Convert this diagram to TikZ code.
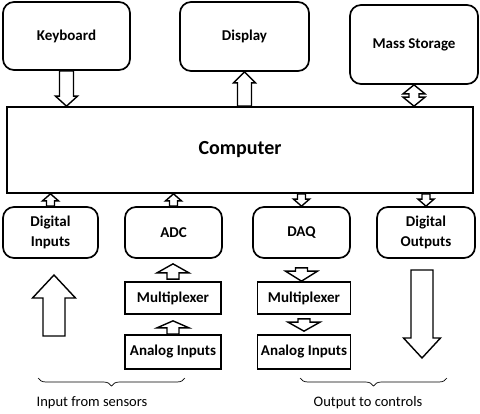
\documentclass[tikz,border=0pt]{standalone}
\usepackage{fontspec}
\setmainfont{Carlito}
\usetikzlibrary{calc, decorations.pathreplacing}

\tikzset{
    rbox/.style={draw, line width=1.7pt, rounded corners=11pt, align=center,
        inner sep=0pt, font=\bfseries\fontsize{15}{20}\selectfont},
    sbox/.style={draw, line width=1.7pt, inner sep=0pt,
        font=\bfseries\fontsize{15}{18}\selectfont},
    blk/.style={draw, line width=1.4pt, fill=white, line join=miter},
    brc/.style={decorate, decoration={brace, mirror, amplitude=8pt}, line width=0.7pt},
    note/.style={font=\fontsize{14.5}{17}\selectfont}
}

% vertical block arrow: start, tip, half shaft, half head, head length
\newcommand{\varr}[5]{%
    \draw[blk] let \p1=(#1), \p2=(#2), \n1={sign(\y2-\y1)} in
        ({\x1-#3},\y1) -- ({\x1-#3},{\y2-(\n1)*#5}) -- ({\x1-#4},{\y2-(\n1)*#5})
        -- (\x1,\y2) -- ({\x1+#4},{\y2-(\n1)*#5}) -- ({\x1+#3},{\y2-(\n1)*#5})
        -- ({\x1+#3},\y1) -- cycle;
}
% double headed block arrow: top, bottom, half shaft, half head, head length
\newcommand{\dvarr}[5]{%
    \draw[blk] let \p1=(#1), \p2=(#2) in
        (\x1,\y1) -- ({\x1+#4},{\y1-#5}) -- ({\x1+#3},{\y1-#5}) -- ({\x1+#3},{\y2+#5})
        -- ({\x1+#4},{\y2+#5}) -- (\x1,\y2) -- ({\x1-#4},{\y2+#5}) -- ({\x1-#3},{\y2+#5})
        -- ({\x1-#3},{\y1-#5}) -- ({\x1-#4},{\y1-#5}) -- cycle;
}

\begin{document}
\begin{tikzpicture}[x=1pt, y=-1pt]
    \useasboundingbox (0,0) rectangle (480,413);

    % top row
    \node[rbox, minimum width=127pt, minimum height=68pt] (kbd) at (66.5,36) {Keyboard};
    \node[rbox, minimum width=129pt, minimum height=69pt] (disp) at (244.5,36.5) {Display};
    \node[rbox, minimum width=128pt, minimum height=79pt] (mass) at (414,44.5) {Mass Storage};

    \node[draw, line width=1.7pt, minimum width=466pt, minimum height=86pt,
        font=\bfseries\fontsize{20}{22}\selectfont] (comp) at (240,150) {Computer};

    % second row
    \node[rbox, minimum width=95pt, minimum height=51pt] (din) at (50.5,232.5) {Digital\\Inputs};
    \node[rbox, minimum width=97pt, minimum height=51pt] (adc) at (173.5,232.5) {ADC};
    \node[rbox, minimum width=97pt, minimum height=51pt] (daq) at (301.5,232.5) {DAQ};
    \node[rbox, minimum width=98pt, minimum height=51pt] (dout) at (426,232.5) {Digital\\Outputs};

    \node[sbox, minimum width=96pt, minimum height=32pt] (muxl) at (173,298) {Multiplexer};
    \node[sbox, minimum width=96pt, minimum height=34pt] (anl) at (173,352) {Analog Inputs};
    \node[sbox, minimum width=93pt, minimum height=32pt] (muxr) at (304,298) {Multiplexer};
    \node[sbox, minimum width=93pt, minimum height=34pt] (anr) at (304,352) {Analog Inputs};

    % arrows to and from the computer
    \varr{kbd.south}{kbd.south |- comp.north}{7pt}{11pt}{10pt}
    \varr{disp.south |- comp.north}{disp.south}{7pt}{11pt}{11pt}
    \dvarr{mass.south}{mass.south |- comp.north}{5pt}{11pt}{9pt}
    \varr{din.north}{din.north |- comp.south}{4pt}{8pt}{7pt}
    \varr{adc.north}{adc.north |- comp.south}{4pt}{8pt}{7pt}
    \varr{daq.north |- comp.south}{daq.north}{4pt}{8pt}{7pt}
    \varr{dout.north |- comp.south}{dout.north}{4pt}{8pt}{7pt}

    % arrows in the chains
    \varr{$(muxl.north)+(0,-2)$}{$(adc.south)+(0,5)$}{6pt}{16pt}{9pt}
    \varr{anl.north}{$(muxl.south)+(0,6)$}{6pt}{16pt}{7pt}
    \varr{$(daq.south)+(0,9)$}{muxr.north}{6pt}{16pt}{10pt}
    \varr{$(muxr.south)+(0,4)$}{$(anr.north)+(0,-3)$}{6pt}{16pt}{9pt}

    % signals in and out
    \coordinate (sinb) at (54,336);
    \coordinate (sint) at (54,275);
    \coordinate (soutt) at (422,270);
    \coordinate (soutb) at (422,358);
    \varr{sinb}{sint}{11pt}{21.5pt}{23pt}
    \varr{soutt}{soutb}{11pt}{18.5pt}{20pt}

    % braces
    \coordinate (bl1) at (38,378);
    \coordinate (bl2) at (185,378);
    \coordinate (br1) at (300,378);
    \coordinate (br2) at (447,378);
    \draw[brc] (bl1) -- (bl2);
    \draw[brc] (br1) -- (br2);
    \node[note] (lin) at (92,403) {Input from sensors};
    \node[note] (lout) at (368,403) {Output to controls};
\end{tikzpicture}
\end{document}
